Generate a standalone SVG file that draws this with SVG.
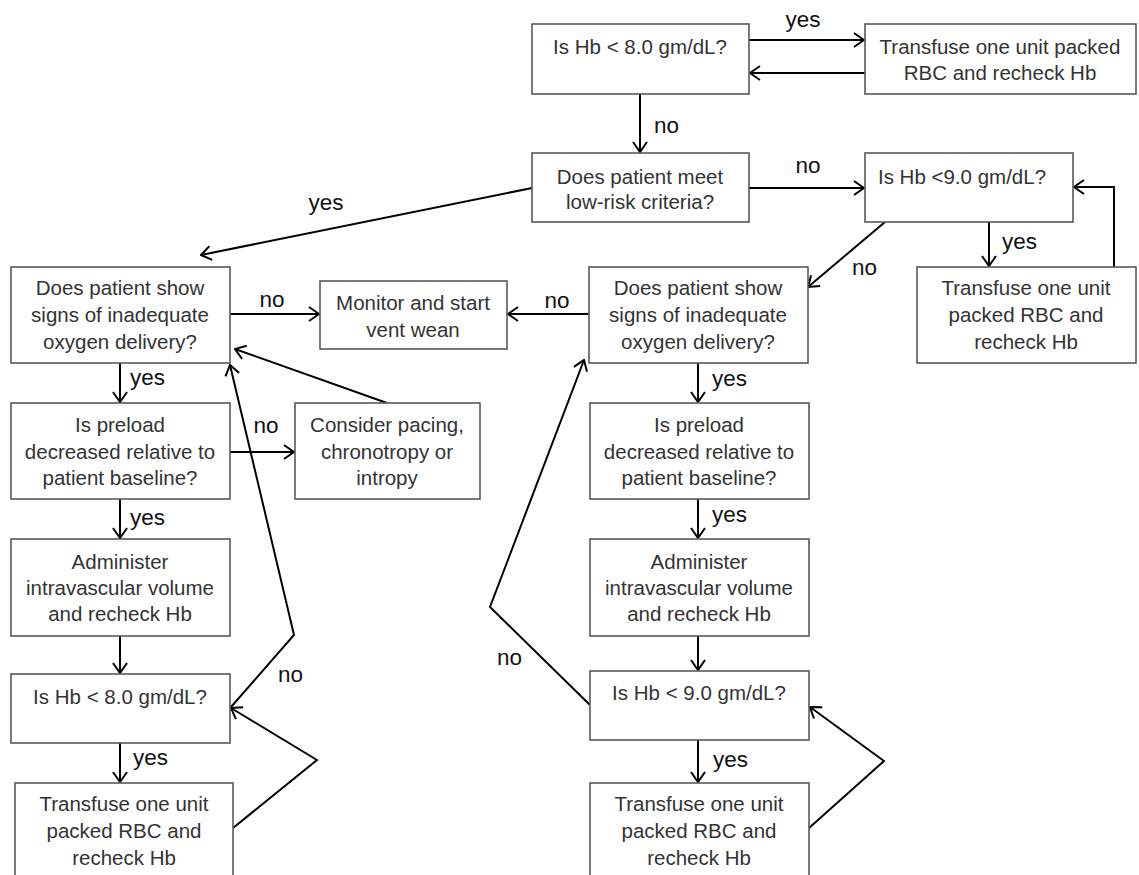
<svg xmlns="http://www.w3.org/2000/svg" width="1139" height="875" viewBox="0 0 1139 875">
<style>
.box{fill:#fff;stroke:#595959;stroke-width:1.6}
.t{font-family:"Liberation Sans",Arial,sans-serif;font-size:20.5px;fill:#333;text-anchor:middle}
.c{fill:none;stroke:#000;stroke-width:2;marker-end:url(#arr)}
.l{font-family:"Liberation Sans",Arial,sans-serif;font-size:22.5px;fill:#111}
.m{text-anchor:middle}
</style>
<defs>
<marker id="arr" viewBox="0 0 12 16" refX="11" refY="8" markerWidth="12" markerHeight="16" markerUnits="userSpaceOnUse" orient="auto">
<path d="M1,1 L11,8 L1,15" fill="none" stroke="#000" stroke-width="2"/>
</marker>
</defs>
<rect width="1139" height="875" fill="#fff"/>
<g id="connectors">
<path class="c" d="M749,40 L864,40"/>
<path class="c" d="M865,73 L750,73"/>
<path class="c" d="M640,94 L640,152"/>
<path class="c" d="M749,188 L864,188"/>
<path class="c" d="M532,188 L201,255"/>
<path class="c" d="M885,222 L808,287"/>
<path class="c" d="M989,222 L989,266"/>
<path class="c" d="M1114,267 L1114,187 L1074,187"/>
<path class="c" d="M230,314 L319,314"/>
<path class="c" d="M589,314 L508,314"/>
<path class="c" d="M120,363 L120,402"/>
<path class="c" d="M230,452 L294,452"/>
<path class="c" d="M387,403 L235,349"/>
<path class="c" d="M120,499 L120,538"/>
<path class="c" d="M120,636 L120,673"/>
<path class="c" d="M120,743 L120,782"/>
<path class="c" d="M233,828 L317,760 L231,708"/>
<path class="c" d="M231,707 L294,635 L230,365"/>
<path class="c" d="M698,363 L698,402"/>
<path class="c" d="M698,499 L698,538"/>
<path class="c" d="M698,636 L698,670"/>
<path class="c" d="M698,740 L698,782"/>
<path class="c" d="M809,828 L884,761 L810,707"/>
<path class="c" d="M590,705 L490,607 L584,360"/>
</g>
<g id="labels">
<text class="l m" x="803" y="27">yes</text>
<text class="l" x="654" y="133">no</text>
<text class="l m" x="808" y="173">no</text>
<text class="l" x="1002" y="249">yes</text>
<text class="l" x="852" y="275">no</text>
<text class="l m" x="326" y="210">yes</text>
<text class="l m" x="272" y="307">no</text>
<text class="l m" x="557" y="308">no</text>
<text class="l" x="130" y="385">yes</text>
<text class="l m" x="266" y="433">no</text>
<text class="l" x="712" y="386">yes</text>
<text class="l" x="130" y="525">yes</text>
<text class="l" x="712" y="522">yes</text>
<text class="l" x="278" y="682">no</text>
<text class="l" x="133" y="765">yes</text>
<text class="l" x="497" y="665">no</text>
<text class="l" x="713" y="767">yes</text>
</g>
<g id="n_hb8_top"><rect class="box" x="532" y="24" width="217" height="70"/><text class="t" x="640" y="54">Is Hb &lt; 8.0 gm/dL?</text></g>
<g id="n_transfuse_top"><rect class="box" x="865" y="24" width="271" height="70"/><text class="t" x="1000" y="54">Transfuse one unit packed</text><text class="t" x="1000" y="80">RBC and recheck Hb</text></g>
<g id="n_lowrisk"><rect class="box" x="532" y="153" width="217" height="69"/><text class="t" x="640" y="184">Does patient meet</text><text class="t" x="640" y="209">low-risk criteria?</text></g>
<g id="n_hb9_top"><rect class="box" x="865" y="153" width="208" height="69"/><text class="t" x="962" y="184">Is Hb &lt;9.0 gm/dL?</text></g>
<g id="n_o2_left"><rect class="box" x="11" y="267" width="219" height="96"/><text class="t" x="120" y="295">Does patient show</text><text class="t" x="120" y="322">signs of inadequate</text><text class="t" x="120" y="349">oxygen delivery?</text></g>
<g id="n_monitor"><rect class="box" x="320" y="281" width="187" height="68"/><text class="t" x="413" y="310">Monitor and start</text><text class="t" x="413" y="337">vent wean</text></g>
<g id="n_o2_right"><rect class="box" x="589" y="267" width="219" height="96"/><text class="t" x="698" y="295">Does patient show</text><text class="t" x="698" y="322">signs of inadequate</text><text class="t" x="698" y="349">oxygen delivery?</text></g>
<g id="n_transfuse_right"><rect class="box" x="917" y="267" width="219" height="96"/><text class="t" x="1026" y="295">Transfuse one unit</text><text class="t" x="1026" y="322">packed RBC and</text><text class="t" x="1026" y="349">recheck Hb</text></g>
<g id="n_preload_left"><rect class="box" x="11" y="403" width="219" height="96"/><text class="t" x="120" y="432">Is preload</text><text class="t" x="120" y="459">decreased relative to</text><text class="t" x="120" y="485">patient baseline?</text></g>
<g id="n_pacing"><rect class="box" x="295" y="403" width="185" height="96"/><text class="t" x="387" y="432">Consider pacing,</text><text class="t" x="387" y="459">chronotropy or</text><text class="t" x="387" y="485">intropy</text></g>
<g id="n_preload_right"><rect class="box" x="590" y="403" width="219" height="96"/><text class="t" x="699" y="432">Is preload</text><text class="t" x="699" y="459">decreased relative to</text><text class="t" x="699" y="485">patient baseline?</text></g>
<g id="n_volume_left"><rect class="box" x="11" y="539" width="219" height="97"/><text class="t" x="120" y="569">Administer</text><text class="t" x="120" y="595">intravascular volume</text><text class="t" x="120" y="621">and recheck Hb</text></g>
<g id="n_volume_right"><rect class="box" x="590" y="539" width="219" height="97"/><text class="t" x="699" y="569">Administer</text><text class="t" x="699" y="595">intravascular volume</text><text class="t" x="699" y="621">and recheck Hb</text></g>
<g id="n_hb8_left"><rect class="box" x="11" y="674" width="219" height="69"/><text class="t" x="120" y="704">Is Hb &lt; 8.0 gm/dL?</text></g>
<g id="n_hb9_right"><rect class="box" x="590" y="671" width="219" height="69"/><text class="t" x="699" y="700">Is Hb &lt; 9.0 gm/dL?</text></g>
<g id="n_transfuse_left"><rect class="box" x="15" y="783" width="218" height="100"/><text class="t" x="124" y="811">Transfuse one unit</text><text class="t" x="124" y="838">packed RBC and</text><text class="t" x="124" y="865">recheck Hb</text></g>
<g id="n_transfuse_bottom_right"><rect class="box" x="590" y="783" width="219" height="100"/><text class="t" x="699" y="811">Transfuse one unit</text><text class="t" x="699" y="838">packed RBC and</text><text class="t" x="699" y="865">recheck Hb</text></g>
</svg>
